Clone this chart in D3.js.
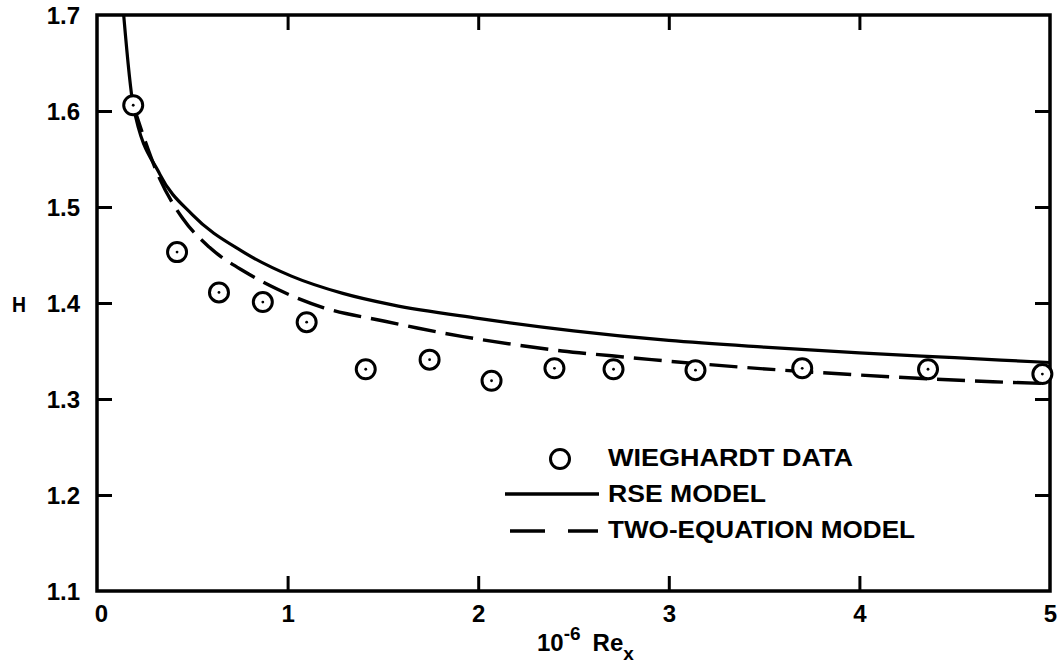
<!DOCTYPE html>
<html>
<head>
<meta charset="utf-8">
<script src="https://cdn.jsdelivr.net/npm/d3@7"></script>
<style>
  html, body { margin: 0; padding: 0; background: #fff; }
  svg { display: block; }
  .lbl { font-family: "Liberation Sans", Arial, sans-serif; font-weight: bold; fill: #000; }
</style>
</head>
<body>
<div id="chart"></div>
<script>
// Wieghardt flat plate data, shape factor H vs 10^-6 Re_x
const dataRe = [0.19, 0.42, 0.64, 0.87, 1.10, 1.41, 1.745, 2.07, 2.40, 2.71, 3.14, 3.70, 4.36, 4.96];
const dataH = [1.606, 1.453, 1.411, 1.401, 1.380, 1.331, 1.341, 1.319, 1.332, 1.331, 1.330, 1.332, 1.331, 1.326];

const rseRe = [0.14, 0.19, 0.33, 0.5, 0.76, 1.02, 1.29, 1.55, 2.0, 2.5, 3.0, 3.5, 4.0, 4.5, 5.0];
const rseH = [1.70, 1.606, 1.534, 1.492, 1.454, 1.428, 1.410, 1.398, 1.384, 1.371, 1.361, 1.354, 1.348, 1.343, 1.338];

const twoEqRe = [0.14, 0.19, 0.33, 0.45, 0.59, 0.78, 0.95, 1.19, 1.51, 1.68, 1.92, 2.18, 2.44, 2.70, 2.91, 3.39, 4.0, 4.7, 5.0];
const twoEqH = [1.70, 1.606, 1.529, 1.488, 1.458, 1.432, 1.414, 1.395, 1.381, 1.374, 1.365, 1.357, 1.350, 1.345, 1.341, 1.333, 1.325, 1.318, 1.316];

const xTicks = [0, 1, 2, 3, 4, 5];
const yTicks = [1.1, 1.2, 1.3, 1.4, 1.5, 1.6, 1.7];
const legendItems = ["WIEGHARDT DATA", "RSE MODEL", "TWO-EQUATION MODEL"];
const legendWidths = [245, 158, 307];

const width = 1062, height = 670;
const svg = d3.select("#chart").append("svg").attr("width", width).attr("height", height);

const x = d3.scaleLinear().domain([0, 5]).range([97, 1050]);
const y = d3.scaleLinear().domain([1.1, 1.7]).range([591, 15]);

const font = 24;

// clip for curves
svg.append("clipPath").attr("id", "plotClip")
  .append("rect").attr("x", x(0)).attr("y", y(1.7)).attr("width", x(5) - x(0)).attr("height", y(1.1) - y(1.7));

// frame
svg.append("rect")
  .attr("x", x(0)).attr("y", y(1.7))
  .attr("width", x(5) - x(0)).attr("height", y(1.1) - y(1.7))
  .attr("fill", "none").attr("stroke", "#000").attr("stroke-width", 3.5);

// axes with inward ticks
const styleAxis = (g) => {
  g.select(".domain").remove();
  g.selectAll(".tick line").attr("stroke", "#000").attr("stroke-width", 3);
};

const bottom = svg.append("g").attr("transform", `translate(0,${y(1.1)})`)
  .call(d3.axisBottom(x).tickValues(xTicks).tickSizeInner(-15).tickSizeOuter(0).tickFormat(d3.format("d")))
  .call(styleAxis);
bottom.selectAll(".tick line").filter((d) => d === 0 || d === 5).remove();
bottom.selectAll(".tick text").attr("class", "lbl").attr("y", 31).attr("dy", 0)
  .attr("font-size", font).attr("font-family", null);
bottom.selectAll(".tick text").filter((d) => d === 0).attr("dx", 4);

svg.append("g").attr("transform", `translate(0,${y(1.7)})`)
  .call(d3.axisTop(x).tickValues(xTicks.slice(1, -1)).tickSizeInner(-15).tickSizeOuter(0).tickFormat(""))
  .call(styleAxis);

const left = svg.append("g").attr("transform", `translate(${x(0)},0)`)
  .call(d3.axisLeft(y).tickValues(yTicks).tickSizeInner(-15).tickSizeOuter(0).tickFormat(d3.format(".1f")))
  .call(styleAxis);
left.selectAll(".tick line").filter((d) => d === 1.1 || d === 1.7).remove();
left.selectAll(".tick text").attr("class", "lbl").attr("x", -17).attr("dy", "0.36em")
  .attr("font-size", font).attr("font-family", null);

svg.append("g").attr("transform", `translate(${x(5)},0)`)
  .call(d3.axisRight(y).tickValues(yTicks.slice(1, -1)).tickSizeInner(-15).tickSizeOuter(0).tickFormat(""))
  .call(styleAxis);

// axis titles
svg.append("text").attr("class", "lbl").attr("x", 12).attr("y", y(1.4) + 9)
  .attr("font-size", 22).attr("textLength", 14).attr("lengthAdjust", "spacingAndGlyphs").text("H");

const xTitle = svg.append("text").attr("class", "lbl").attr("x", 537).attr("y", 651).attr("font-size", font);
xTitle.append("tspan").text("10");
xTitle.append("tspan").attr("dy", -11).attr("font-size", 19).text("-6");
xTitle.append("tspan").attr("dy", 11).attr("dx", 12).text("Re");
xTitle.append("tspan").attr("dy", 9).attr("font-size", 19).text("x");

// model curves
const rsePts = rseRe.map((r, i) => [r, rseH[i]]);
const twoPts = twoEqRe.map((r, i) => [r, twoEqH[i]]);
const line = d3.line().x((d) => x(d[0])).y((d) => y(d[1])).curve(d3.curveMonotoneX);

const curves = svg.append("g").attr("clip-path", "url(#plotClip)");
curves.append("path").attr("d", line(rsePts))
  .attr("fill", "none").attr("stroke", "#000").attr("stroke-width", 3.2);
curves.append("path").attr("d", line(twoPts.slice(1)))
  .attr("fill", "none").attr("stroke", "#000").attr("stroke-width", 3.4)
  .attr("stroke-dasharray", "28,10");

// data markers
const pts = dataRe.map((r, i) => ({ re: r, h: dataH[i] }));
const marks = svg.append("g");
marks.selectAll("circle.ring").data(pts).enter().append("circle").attr("class", "ring")
  .attr("cx", (d) => x(d.re)).attr("cy", (d) => y(d.h)).attr("r", 9.5)
  .attr("fill", "#fff").attr("stroke", "#000").attr("stroke-width", 3);
marks.selectAll("circle.dot").data(pts).enter().append("circle").attr("class", "dot")
  .attr("cx", (d) => x(d.re)).attr("cy", (d) => y(d.h)).attr("r", 1.4).attr("fill", "#000");

// legend
const lg = svg.append("g");
lg.append("circle").attr("cx", 560).attr("cy", 459).attr("r", 9.5)
  .attr("fill", "none").attr("stroke", "#000").attr("stroke-width", 3);
lg.append("line").attr("x1", 505).attr("x2", 599).attr("y1", 494).attr("y2", 494)
  .attr("stroke", "#000").attr("stroke-width", 3.4);
lg.append("line").attr("x1", 510).attr("x2", 598).attr("y1", 531).attr("y2", 531)
  .attr("stroke", "#000").attr("stroke-width", 3.4).attr("stroke-dasharray", "35,23");
lg.selectAll("text").data(legendItems).enter().append("text").attr("class", "lbl")
  .attr("x", 608).attr("y", (d, i) => [466, 502, 538][i])
  .attr("font-size", 23)
  .attr("textLength", (d, i) => legendWidths[i]).attr("lengthAdjust", "spacingAndGlyphs")
  .text((d) => d);
</script>
</body>
</html>
